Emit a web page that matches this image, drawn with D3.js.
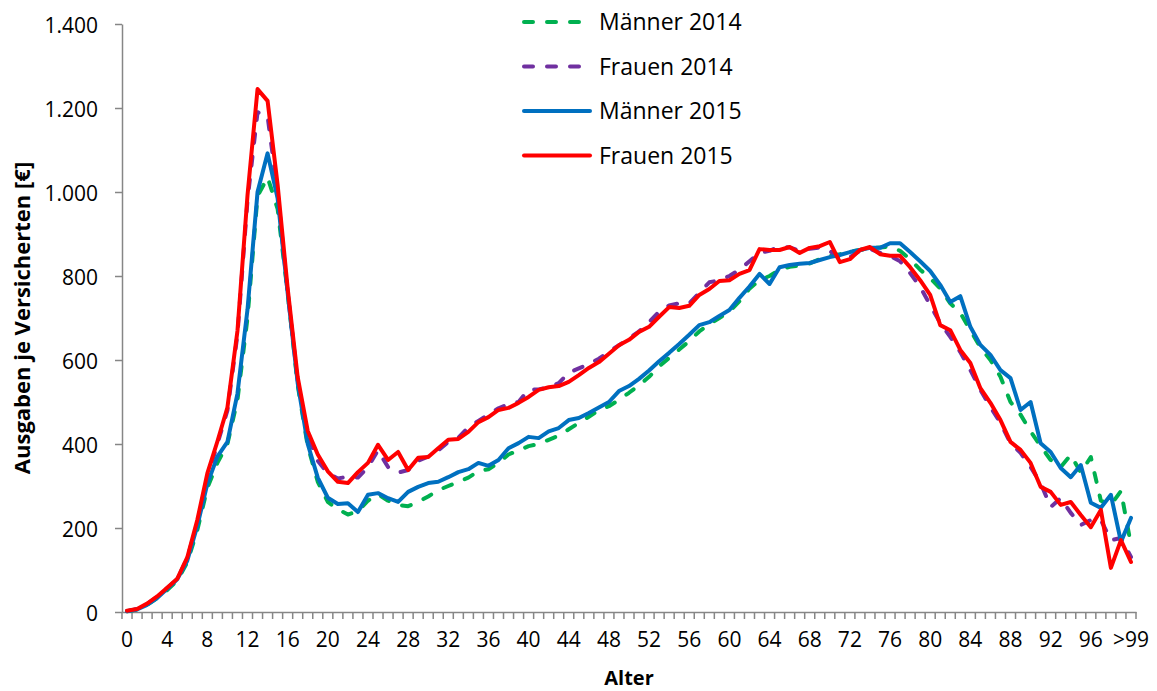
<!DOCTYPE html>
<meta charset="utf-8">
<script src="https://d3js.org/d3.v7.min.js"></script>
<style>
  body { margin: 0; background: #fff; }
  text { font-family: "Open Sans", sans-serif; fill: #000; }
</style>
<body>
<div id="vis"></div>
<script>
// categories: age 0..99 and ">99"
var categories = d3.range(0, 100).map(String).concat([">99"])

var maenner2014 = [2, 6, 17, 33, 52, 75, 118, 195, 295, 355,
  400, 505, 700, 990, 1035, 960, 760, 540, 395, 310,
  262, 245, 232, 240, 265, 280, 265, 255, 252, 262,
  275, 290, 300, 310, 320, 335, 340, 355, 375, 385,
  395, 400, 410, 420, 435, 450, 465, 480, 490, 505,
  522, 540, 560, 585, 605, 625, 645, 668, 685, 700,
  715, 740, 770, 790, 800, 815, 822, 825, 830, 840,
  848, 852, 858, 862, 866, 868, 870, 860, 840, 815,
  795, 770, 735, 712, 671, 630, 600, 560, 500, 470,
  430, 395, 362, 345, 374, 332, 369, 265, 255, 288,
  160]

var frauen2014 = [2, 7, 19, 36, 57, 78, 128, 212, 320, 400,
  480, 660, 980, 1190, 1180, 1000, 760, 550, 420, 360,
  330, 318, 322, 320, 345, 385, 345, 332, 338, 360,
  370, 385, 405, 415, 440, 455, 470, 485, 495, 500,
  530, 530, 535, 545, 570, 580, 590, 603, 620, 635,
  652, 668, 690, 715, 730, 735, 735, 760, 785, 790,
  800, 815, 835, 855, 860, 870, 868, 860, 865, 868,
  860, 840, 845, 860, 865, 855, 848, 835, 807, 774,
  731, 688, 655, 619, 576, 529, 488, 450, 402, 379,
  345, 307, 250, 271, 236, 207, 219, 219, 171, 176,
  131]

var maenner2015 = [2, 6, 17, 33, 55, 78, 122, 205, 305, 370,
  405, 520, 720, 1000, 1092, 985, 760, 545, 400, 320,
  272, 257, 259, 238, 279, 283, 271, 262, 286, 298,
  307, 310, 321, 333, 340, 355, 348, 362, 390, 402,
  417, 414, 430, 438, 457, 462, 474, 487, 500, 526,
  538, 555, 575, 597, 617, 638, 660, 683, 690, 705,
  719, 748, 775, 805, 781, 821, 826, 829, 831, 838,
  845, 850, 857, 862, 867, 867, 878, 878, 857, 835,
  812, 779, 738, 752, 679, 636, 612, 576, 557, 481,
  500, 402, 381, 343, 321, 350, 260, 248, 279, 167,
  224]

var frauen2015 = [3, 7, 20, 37, 58, 79, 130, 219, 330, 406,
  487, 669, 992, 1245, 1217, 1017, 771, 559, 431, 375,
  335, 310, 307, 333, 355, 398, 362, 381, 338, 367,
  369, 390, 410, 412, 429, 452, 464, 481, 486, 498,
  512, 529, 535, 538, 548, 564, 581, 595, 615, 635,
  648, 667, 679, 703, 726, 724, 729, 755, 769, 788,
  790, 805, 814, 864, 862, 862, 869, 855, 867, 871,
  881, 833, 840, 862, 869, 852, 848, 848, 821, 790,
  755, 683, 671, 624, 593, 533, 498, 457, 405, 386,
  355, 298, 286, 255, 262, 231, 202, 243, 105, 171,
  119]

var seriesNames = ["Männer 2014", "Frauen 2014", "Männer 2015", "Frauen 2015"]
var yTicks = [0, 200, 400, 600, 800, 1000, 1200, 1400]

var series = [
  {name: seriesNames[0], values: maenner2014, color: "#00B050", dash: "9,14"},
  {name: seriesNames[1], values: frauen2014, color: "#7030A0", dash: "9,14"},
  {name: seriesNames[2], values: maenner2015, color: "#0070C0", dash: null},
  {name: seriesNames[3], values: frauen2015, color: "#FF0000", dash: null}
]

var width = 1157, height = 691
var plot = {left: 122, right: 1136, top: 24, bottom: 612}
var axisColor = "#868686"

var svg = d3.select("#vis").append("svg")
  .attr("width", width)
  .attr("height", height)

var x = d3.scaleBand()
  .domain(categories)
  .range([plot.left, plot.right])
  .padding(0)

var y = d3.scaleLinear()
  .domain([0, 1400])
  .range([plot.bottom, plot.top])

// german number format: 1.400
var de = d3.formatLocale({decimal: ",", thousands: ".", grouping: [3], currency: ["", " €"]})
var fmt = de.format(",d")

//y axis
var yAxis = svg.append("g")
  .attr("transform", "translate(" + plot.left + ",0)")
  .call(d3.axisLeft(y).tickValues(yTicks).tickFormat(fmt).tickSize(7).tickSizeOuter(0))
yAxis.select(".domain").attr("stroke", axisColor).attr("stroke-width", 1.5)
yAxis.selectAll(".tick line").attr("stroke", axisColor).attr("stroke-width", 1.5)
yAxis.selectAll(".tick text")
  .attr("x", -24)
  .attr("dy", "0.4em")
  .style("font-size", "21px")
  .style("font-family", "'Open Sans', sans-serif")
  .attr("fill", "#000")

//x axis: labels every 4th category, tick marks between categories
var xAxis = svg.append("g")
  .attr("transform", "translate(0," + plot.bottom + ")")
  .call(d3.axisBottom(x)
    .tickValues(categories.filter(function(d, i) { return i % 4 === 0 }))
    .tickSize(0).tickSizeOuter(0))
xAxis.select(".domain").attr("stroke", axisColor).attr("stroke-width", 1.5)
xAxis.selectAll(".tick text")
  .attr("y", 28)
  .attr("dy", "0.35em")
  .style("font-size", "21px")
  .style("font-family", "'Open Sans', sans-serif")
  .attr("fill", "#000")

xAxis.selectAll("line.sep")
  .data(categories.concat(["end"]))
  .enter()
  .append("line")
    .attr("class", "sep")
    .attr("x1", function(d) { return d === "end" ? x.range()[1] : x(d) })
    .attr("x2", function(d) { return d === "end" ? x.range()[1] : x(d) })
    .attr("y1", 0)
    .attr("y2", 7)
    .attr("stroke", axisColor)
    .attr("stroke-width", 1.5)

//axis titles
svg.append("text")
  .attr("x", (plot.left + plot.right) / 2)
  .attr("y", 685)
  .attr("text-anchor", "middle")
  .style("font-size", "20px")
  .style("font-weight", "bold")
  .text("Alter")

svg.append("text")
  .attr("transform", "translate(30," + (plot.top + plot.bottom) / 2 + ") rotate(-90)")
  .attr("text-anchor", "middle")
  .style("font-size", "22px")
  .style("font-weight", "bold")
  .text("Ausgaben je Versicherten [€]")

//lines
var line = d3.line()
  .x(function(d, i) { return x(categories[i]) + x.bandwidth() / 2 })
  .y(function(d) { return y(d) })

svg.append("g")
  .selectAll("path")
  .data(series)
  .enter()
  .append("path")
    .attr("d", function(d) { return line(d.values) })
    .attr("fill", "none")
    .attr("stroke", function(d) { return d.color })
    .attr("stroke-width", 4)
    .attr("stroke-linejoin", "round")
    .attr("stroke-linecap", "round")
    .attr("stroke-dasharray", function(d) { return d.dash })

//legend
var legend = svg.append("g")
  .selectAll("g")
  .data(series)
  .enter()
  .append("g")
    .attr("transform", function(d, i) { return "translate(524," + (22 + i * 44.5) + ")" })

legend.append("line")
  .attr("x1", 0)
  .attr("x2", function(d) { return d.dash ? 58 : 66 })
  .attr("y1", 0)
  .attr("y2", 0)
  .attr("stroke", function(d) { return d.color })
  .attr("stroke-width", 4)
  .attr("stroke-linecap", "round")
  .attr("stroke-dasharray", function(d) { return d.dash })

legend.append("text")
  .attr("x", 75)
  .attr("y", 0)
  .attr("dy", "0.35em")
  .style("font-size", "23px")
  .text(function(d) { return d.name })
</script>
</body>
